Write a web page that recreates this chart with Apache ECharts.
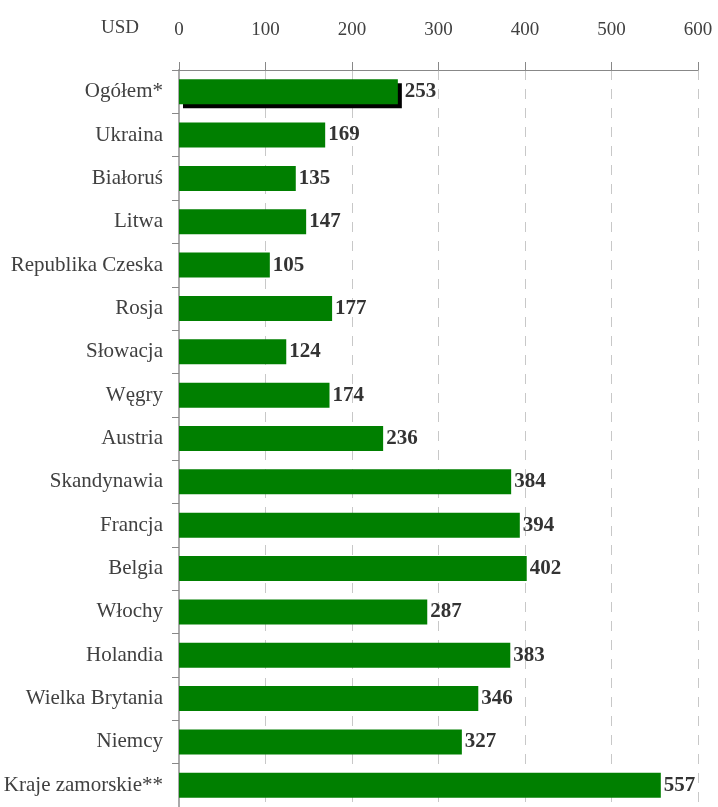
<!DOCTYPE html>
<html>
<head>
<meta charset="utf-8">
<script src="https://cdn.jsdelivr.net/npm/echarts@6/dist/echarts.min.js"></script>
<style>
  html, body { margin: 0; padding: 0; background: #fff; }
  #chart { width: 718px; height: 807px; }
</style>
</head>
<body>
<div id="chart"></div>
<script>
var chart = echarts.init(document.getElementById("chart"));

// dane
var kraje = ["Ogółem*", "Ukraina", "Białoruś", "Litwa", "Republika Czeska", "Rosja", "Słowacja", "Węgry", "Austria",
    "Skandynawia", "Francja", "Belgia", "Włochy", "Holandia", "Wielka Brytania", "Niemcy", "Kraje zamorskie**"];
var wydatki = [253, 169, 135, 147, 105, 177, 124, 174, 236, 384, 394, 402, 287, 383, 346, 327, 557];
var osX = { min: 0, max: 600, interval: 100 };

var serif = "Liberation Serif";

// pierwszy słupek (Ogółem) z czarnym cieniem
var dane = wydatki.map(function (v, i) {
    if (i === 0) {
        return {
            value: v,
            itemStyle: {
                shadowColor: "#000",
                shadowOffsetX: 4,
                shadowOffsetY: 4,
                shadowBlur: 0
            },
            label: { distance: 7 }
        };
    }
    return v;
});

var option = {
    animation: false,
    grid: {
        left: 179,
        right: 20,
        top: 70,
        height: 741
    },
    graphic: [{
        type: "text",
        left: 101,
        top: 19,
        style: {
            text: "USD",
            font: "19px " + serif,
            fill: "#404040"
        }
    }],
    xAxis: {
        type: "value",
        position: "top",
        min: osX.min,
        max: osX.max,
        interval: osX.interval,
        axisLine: { show: true, lineStyle: { color: "#888", width: 1 } },
        axisTick: { show: true, length: 8, lineStyle: { color: "#888" } },
        axisLabel: {
            margin: 30,
            color: "#404040",
            fontFamily: serif,
            fontSize: 19
        },
        splitLine: {
            show: true,
            lineStyle: { color: "#c8c8c8", type: [10, 9] }
        }
    },
    yAxis: {
        type: "category",
        data: kraje,
        inverse: true,
        axisLine: { show: true, lineStyle: { color: "#aaa", width: 2 } },
        axisTick: { show: true, length: 7, lineStyle: { color: "#888" } },
        axisLabel: {
            margin: 16,
            color: "#404040",
            fontFamily: serif,
            fontSize: 21
        }
    },
    series: [{
        type: "bar",
        data: dane,
        barWidth: 25,
        itemStyle: { color: "#007f00" },
        label: {
            show: true,
            position: "right",
            distance: 3,
            color: "#333",
            fontFamily: serif,
            fontWeight: "bold",
            fontSize: 21
        }
    }]
};

chart.setOption(option);
</script>
</body>
</html>
